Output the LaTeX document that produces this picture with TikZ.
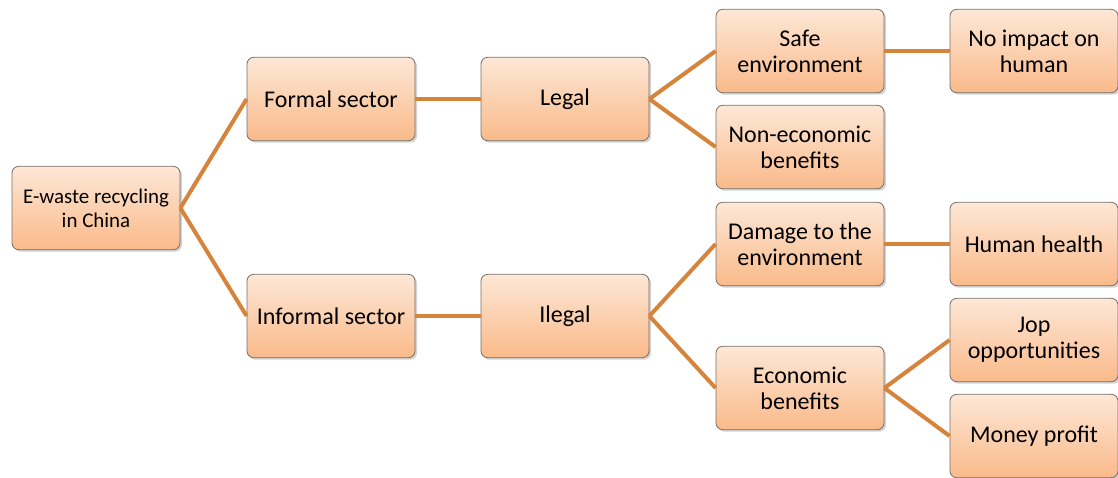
\documentclass[tikz,border=0pt]{standalone}
\usepackage{fontspec}
\setmainfont{Carlito}
\usetikzlibrary{positioning,calc,shadows}

\definecolor{boxtop}{RGB}{253,231,214}
\definecolor{boxbot}{RGB}{250,186,138}
\definecolor{boxline}{RGB}{118,110,104}
\definecolor{linkcol}{RGB}{214,131,60}

\tikzset{
  box/.style={draw=boxline, line width=0.6pt, rounded corners=5pt,
    top color=boxtop, bottom color=boxbot, minimum width=126pt,
    minimum height=62.5pt, align=center, font=\fontsize{18}{19.5}\selectfont,
    drop shadow={shadow xshift=1.5pt, shadow yshift=-1.5pt, opacity=0.35, fill=gray}},
  link/.style={draw=linkcol, line width=3pt}
}

\begin{document}
\begin{tikzpicture}[x=0.75pt, y=-0.75pt]
          \useasboundingbox (0, 0) rectangle (1118, 478);%
          % boxes
          \node [box, font=\fontsize{15.7}{18}\selectfont] (root) at (96, 208) {E-waste recycling\\in China};%
          \node [box] (formal) at (331, 99) {Formal sector};%
          \node [box] (legal) at (565, 99) {Legal};%
          \node [box] (informal) at (331, 316) {Informal sector};%
          \node [box] (ilegal) at (565, 316) {Ilegal};%
          \node [box] (safe) at (800, 51) {Safe\\environment};%
          \node [box] (noneco) at (800, 147) {Non-economic\\benefits};%
          \node [box] (noimpact) at (1034, 51) {No impact on\\human};%
          \node [box] (damage) at (800, 244) {Damage to the\\environment};%
          \node [box] (health) at (1034, 244) {Human health};%
          \node [box] (eco) at (800, 388) {Economic\\benefits};%
          \node [box] (jop) at (1034, 340) {Jop\\opportunities};%
          \node [box] (money) at (1034, 436) {Money profit};%
          % links
          \draw [link] (root.east) -- (formal.west);%
          \draw [link] (root.east) -- (informal.west);%
          \draw [link] (formal.east) -- (legal.west);%
          \draw [link] (informal.east) -- (ilegal.west);%
          \draw [link] (legal.east) -- (safe.west);%
          \draw [link] (legal.east) -- (noneco.west);%
          \draw [link] (safe.east) -- (noimpact.west);%
          \draw [link] (ilegal.east) -- (damage.west);%
          \draw [link] (ilegal.east) -- (eco.west);%
          \draw [link] (damage.east) -- (health.west);%
          \draw [link] (eco.east) -- (jop.west);%
          \draw [link] (eco.east) -- (money.west);%
        \end{tikzpicture}
\end{document}
